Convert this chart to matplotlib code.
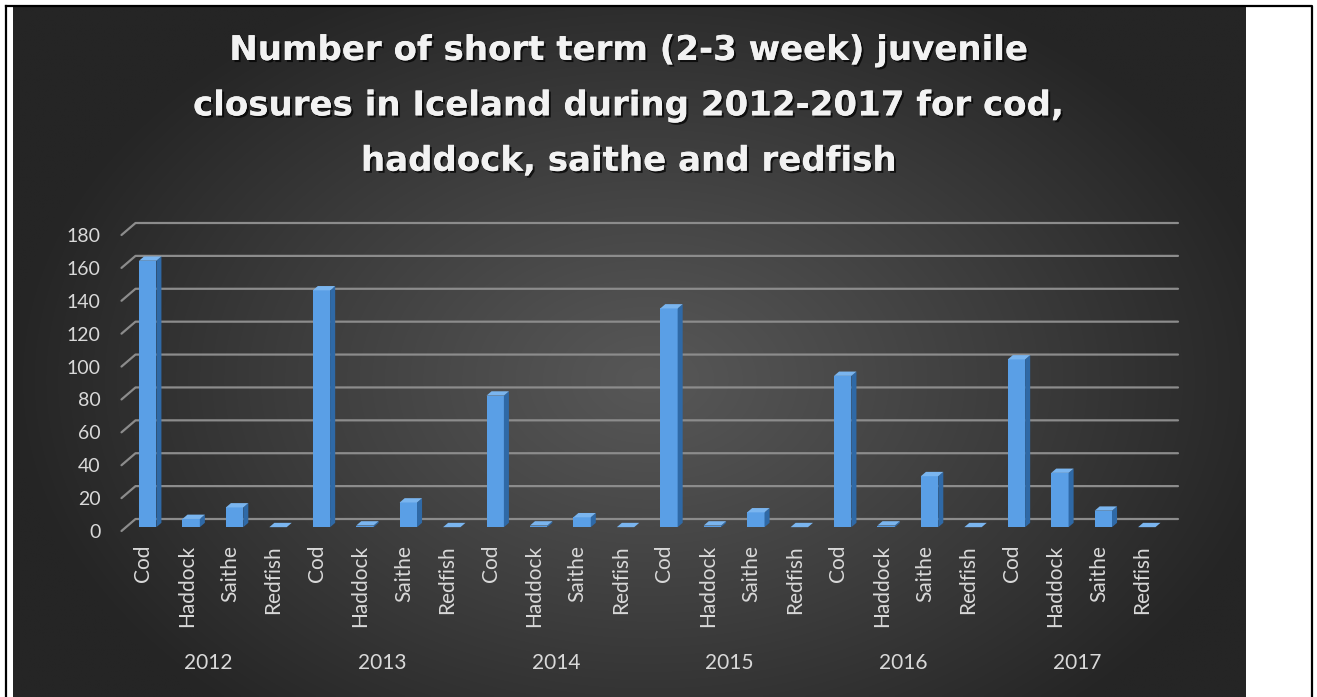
import numpy as np
import matplotlib
matplotlib.use("Agg")
import matplotlib.pyplot as plt
from matplotlib import patheffects
from matplotlib.patches import Polygon
from matplotlib.transforms import blended_transform_factory

# closures per year, one entry per species
YEARS = ["2012", "2013", "2014", "2015", "2016", "2017"]
SPECIES = ["Cod", "Haddock", "Saithe", "Redfish"]
COD = [162, 144, 80, 133, 92, 102]
HADDOCK = [5, 1, 1, 1, 1, 33]
SAITHE = [12, 15, 6, 9, 31, 10]
REDFISH = [0, 0, 0, 0, 0, 0]
Y_TICKS = list(range(0, 181, 20))

TITLE = ("Number of short term (2-3 week) juvenile\n"
         "closures in Iceland during 2012-2017 for cod,\n"
         "haddock, saithe and redfish")

W, H = 1317, 697
FRONT = "#5a9fe6"
SIDE = "#2f69a6"
TOP = "#7ab5ef"
GRID = "#8c8c8c"
TXT = "#d9d9d9"

values = []
labels = []
for i in range(len(YEARS)):
    for s, col in zip(SPECIES, (COD, HADDOCK, SAITHE, REDFISH)):
        values.append(col[i])
        labels.append(s)
n = len(values)
xs = np.arange(n)

fig = plt.figure(figsize=(W / 100, H / 100), dpi=100)
fig.patch.set_facecolor("white")

# backdrop: radial grey gradient inside a thin black frame
bg = fig.add_axes([0, 0, 1, 1])
bg.set_xlim(0, W)
bg.set_ylim(H, 0)
bg.axis("off")
gx, gy = np.meshgrid(np.linspace(13, 1246, 400), np.linspace(6, H, 240))
r = np.sqrt(((gx - 650) / 640) ** 2 + ((gy - 380) / 440) ** 2)
t = np.clip(r, 0, 1) ** 1.1
c0 = np.array([0x57, 0x57, 0x57]) / 255
c1 = np.array([0x25, 0x25, 0x25]) / 255
img = c0[None, None, :] * (1 - t[..., None]) + c1[None, None, :] * t[..., None]
bg.imshow(img, extent=(13, 1246, H, 6), aspect="auto", interpolation="bilinear")
bg.plot([6, 1312, 1312], [5.5, 5.5, H], color="black", lw=1.6)
bg.plot([6, 6], [5.5, H], color="black", lw=1.6)

# chart axes: data coordinates map onto the front plane of the 3-D box
x0, x1 = 121.5, 1164.0
y0, y1 = 531.0, 235.0
ax = fig.add_axes([x0 / W, (H - y0) / H, (x1 - x0) / W, (y0 - y1) / H])
ax.set_xlim(-0.5, n - 0.5)
ax.set_ylim(0, 180)
ax.patch.set_visible(False)
for sp in ax.spines.values():
    sp.set_visible(False)

px_x = (x1 - x0) / n
px_y = (y0 - y1) / 180
dx = 14 / px_x          # full box depth in x units
dy = 12 / px_y          # full box depth in value units

for v in Y_TICKS:
    ax.plot([-0.5, -0.5 + dx, n - 0.5 + dx], [v, v + dy, v + dy],
            color=GRID, lw=1.6, clip_on=False, zorder=1,
            solid_capstyle="round")

f0, f1 = 0.32, 0.68
bw = 0.4
bx = xs + f0 * dx
base = f0 * dy
ddx, ddy = (f1 - f0) * dx, (f1 - f0) * dy
ax.bar(bx, values, width=bw, bottom=base, color=FRONT, zorder=3,
       clip_on=False, linewidth=0)
for xc, v in zip(bx, values):
    xl, xr = xc - bw / 2, xc + bw / 2
    top = base + v
    ax.add_patch(Polygon([(xr, base), (xr + ddx, base + ddy),
                          (xr + ddx, top + ddy), (xr, top)],
                         closed=True, fc=SIDE, ec="none", zorder=3, clip_on=False))
    ax.add_patch(Polygon([(xl, top), (xr, top), (xr + ddx, top + ddy),
                          (xl + ddx, top + ddy)],
                         closed=True, fc=TOP, ec="none", zorder=4, clip_on=False))

font = "Lato"
ax.set_yticks(Y_TICKS)
ax.set_yticklabels([str(v) for v in Y_TICKS], fontsize=14, color=TXT,
                   fontfamily=font)
ax.set_xticks(xs)
ax.set_xticklabels(labels, rotation=90, fontsize=15, color=TXT, fontfamily=font)
ax.tick_params(axis="y", length=0, pad=15)
ax.tick_params(axis="x", length=0, pad=10)

trans = blended_transform_factory(ax.transData, fig.transFigure)
for g, yr in enumerate(YEARS):
    ax.text(4 * g + 1.5, (H - 663) / H, yr, transform=trans, ha="center",
            va="center", fontsize=15, color=TXT, fontfamily=font)

fig.text(629 / W, 1 - 34 / H, TITLE, ha="center", va="top", fontsize=24.5,
         fontweight="bold", fontfamily="DejaVu Sans", color="#f2f2f2",
         linespacing=1.86,
         path_effects=[patheffects.withSimplePatchShadow(
             offset=(1.5, -1.5), shadow_rgbFace="black", alpha=0.7),
             patheffects.Normal()])

fig.savefig("out.png", dpi=100)
